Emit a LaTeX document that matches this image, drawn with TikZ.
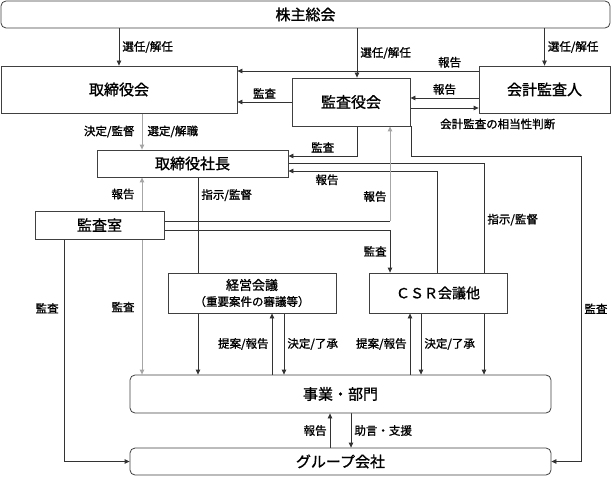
\documentclass[tikz,border=0pt]{standalone}
\usepackage{fontspec}
\setmainfont{Noto Sans CJK JP}[FakeBold=1.2]
\usepackage{tikz}
\usetikzlibrary{arrows.meta,backgrounds}

\begin{document}
\begin{tikzpicture}[x=1pt,y=-1pt,
  >={Triangle[length=5pt,width=4.5pt]},
  box/.style={draw=black!75,fill=white,line width=0.8pt,inner sep=0pt,font=\fontsize{15}{18}\selectfont},
  rbox/.style={box,rounded corners=5pt},
  lbl/.style={font=\fontsize{11.5}{13}\selectfont,inner sep=3pt},
  conn/.style={draw=black!80,line width=0.8pt},
  gconn/.style={draw=black!35,line width=1pt}]

  \useasboundingbox (0,0) rectangle (612,476);

  % Boxes
  \node[rbox,minimum width=609pt,minimum height=27pt] (kabu) at (305.5,14.5) {株主総会};
  \node[box,minimum width=236pt,minimum height=47pt] (torikai) at (119,89.5) {取締役会};
  \node[box,minimum width=118pt,minimum height=48pt] (kansa) at (351,102) {監査役会};
  \node[box,minimum width=131pt,minimum height=47pt] (kaikei) at (544.5,89.5) {会計監査人};
  \node[box,minimum width=191pt,minimum height=27pt] (shacho) at (192.5,163.5) {取締役社長};
  \node[box,minimum width=129pt,minimum height=28pt] (kansashitsu) at (99.5,225) {監査室};
  \node[box,minimum width=168pt,minimum height=40pt,align=center,font=\fontsize{13}{16}\selectfont] (keiei) at (252,293)
    {経営会議\\{\fontsize{11.5}{16}\selectfont （重要案件の審議等）}};
  \node[box,minimum width=138pt,minimum height=40pt,font=\fontsize{14}{16}\selectfont] (csr) at (438,293) {ＣＳＲ会議他};
  \node[rbox,minimum width=421pt,minimum height=38pt] (jigyo) at (340.5,394) {事業・部門};
  \node[rbox,minimum width=421pt,minimum height=27pt] (group) at (340.5,461.5) {グループ会社};

  \node[lbl,anchor=west] (soutou) at (437,124) {会計監査の相当性判断};

  % Columns and rows for routing
  \foreach \c in {64,142,198,272,284,330,351,357,390,410,411,421,437,484,581}
    \coordinate (x\c) at (\c,0);
  \foreach \r in {71,98,108,156,163,171,221,230}
    \coordinate (r\r) at (0,\r);

  \begin{scope}[on background layer]
  % Shareholders
  \draw[conn,->] (kabu.south -| torikai.north) -- (torikai.north) node[lbl,midway,right] {選任/解任};
  \draw[conn,->] (kabu.south -| x357) -- (kansa.north -| x357) node[lbl,midway,right] {選任/解任};
  \draw[conn,->] (kabu.south -| kaikei.north) -- (kaikei.north) node[lbl,midway,right] {選任/解任};

  % Auditors
  \draw[conn,->] (kaikei.west |- r71) -- (torikai.east |- r71) node[lbl,pos=0.12,above] {報告};
  \draw[conn,->] (kansa.west) -- (torikai.east |- kansa.west) node[lbl,midway,above] {監査};
  \draw[conn,->] (kaikei.west |- r98) -- (kansa.east |- r98) node[lbl,midway,above] {報告};
  \draw[conn,->] (kansa.east |- r108) -- (kaikei.west |- r108);

  % Board -> president
  \draw[gconn,->] (torikai.south -| x142) -- (shacho.north -| x142)
    node[lbl,midway,left,xshift=-4pt] {決定/監督} node[lbl,midway,right,xshift=2pt] {選定/解職};
  \draw[conn,->] (kansa.south -| x357) |- (shacho.east |- r156) node[lbl,pos=0.75,above] {監査};
  \draw[conn,->] (kansa.south -| x411) |- (x581 |- r156) |- (group.east) node[lbl,pos=0.25,right] {監査};

  % President
  \draw[conn,->] (shacho.east |- r163) -| (jigyo.north -| x484) node[lbl,pos=0.634,right] {指示/監督};
  \draw[conn,->] (csr.north -| x437) |- (shacho.east |- r171) node[lbl,pos=0.87,below] {報告};
  \draw[conn,->] (shacho.south -| x198) -- (jigyo.north -| x198) node[lbl,pos=0.09,right] {指示/監督};

  % Audit office
  \draw[conn] (kansashitsu.east |- r221) -- (x390 |- r221);
  \draw[gconn,->] (x390 |- r221) -- (kansa.south -| x390) node[lbl,pos=0.26,left] {報告};
  \draw[conn,->] (kansashitsu.east |- r230) -| (csr.north -| x390) node[lbl,pos=0.75,left] {監査};
  \draw[gconn,->] (kansashitsu.north -| x142) -- (shacho.south -| x142) node[lbl,midway,left,xshift=-4pt] {報告};
  \draw[gconn,->] (kansashitsu.south -| x142) -- (jigyo.north -| x142) node[lbl,midway,left,xshift=-4pt] {監査};
  \draw[conn,->] (kansashitsu.south -| x64) |- (group.west) node[lbl,pos=0.155,left,xshift=-2pt] {監査};

  % Meetings <-> business
  \draw[conn,->] (jigyo.north -| x272) -- (keiei.south -| x272) node[lbl,midway,left] {提案/報告};
  \draw[conn,->] (keiei.south -| x284) -- (jigyo.north -| x284) node[lbl,midway,right] {決定/了承};
  \draw[conn,->] (jigyo.north -| x410) -- (csr.south -| x410) node[lbl,midway,left] {提案/報告};
  \draw[conn,->] (csr.south -| x421) -- (jigyo.north -| x421) node[lbl,midway,right] {決定/了承};

  % Business <-> group
  \draw[conn,->] (group.north -| x330) -- (jigyo.south -| x330) node[lbl,midway,left] {報告};
  \draw[conn,->] (jigyo.south -| x351) -- (group.north -| x351) node[lbl,midway,right] {助言・支援};
  \end{scope}
\end{tikzpicture}
\end{document}
